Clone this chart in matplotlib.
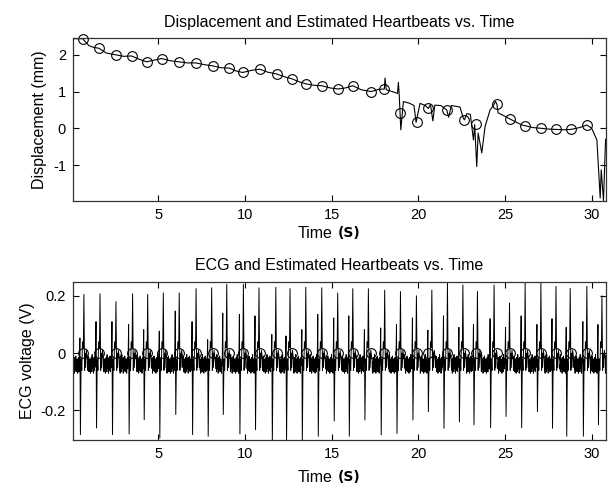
import matplotlib
matplotlib.use("Agg")
import numpy as np
import matplotlib.pyplot as plt

plt.rcParams['font.family'] = ['Liberation Sans', 'DejaVu Sans']
plt.rcParams['axes.unicode_minus'] = False

# ---------------- data ----------------
# displacement trace vertices (time s, displacement mm)
disp_t = [0.10, 0.64, 1.00, 1.30, 1.58, 2.00, 2.56, 3.00, 3.46, 3.90, 4.33, 4.80,
          5.19, 5.70, 6.19, 6.70, 7.17, 7.70, 8.14, 8.60, 9.09, 9.50, 9.87, 10.40,
          10.87, 11.30, 11.83, 12.30, 12.70, 13.10, 13.52, 14.00, 14.43, 14.90,
          15.39, 15.80, 16.22, 16.70, 17.28, 17.70, 18.04, 18.08, 18.15, 18.50,
          18.80, 18.85, 18.90, 18.99, 19.14, 19.50, 19.75, 19.87, 20.10, 20.40,
          20.58, 20.70, 20.84, 20.95, 21.30, 21.64, 21.75, 21.90, 22.40, 22.60,
          22.66, 22.80, 23.00, 23.18, 23.25, 23.37, 23.45, 23.66, 23.85, 24.14,
          24.33, 24.45, 24.53, 24.60, 24.90, 25.30, 25.97, 26.16, 26.60, 27.09,
          27.50, 27.95, 28.40, 28.80, 29.30, 29.72, 30.00, 30.30, 30.49, 30.55,
          30.68, 30.80]
disp_v = [2.44, 2.44, 2.25, 2.20, 2.18, 2.05, 2.00, 1.96, 1.97, 1.88, 1.81, 1.86,
          1.90, 1.84, 1.81, 1.78, 1.78, 1.73, 1.70, 1.65, 1.64, 1.56, 1.52, 1.58,
          1.61, 1.53, 1.48, 1.40, 1.35, 1.27, 1.21, 1.17, 1.16, 1.10,
          1.07, 1.10, 1.16, 1.05, 1.00, 1.06, 1.07, 1.37, 1.05, 1.00,
          0.95, 1.25, 0.90, -0.04, 0.73, 0.68, 0.62, 0.16, 0.68, 0.62,
          0.54, 0.65, 0.20, 0.63, 0.62, 0.50, 0.30, 0.62, 0.58, 0.27,
          0.23, 0.40, 0.38, -0.32, 0.10, -1.04, -0.13, -0.67, 0.05, 0.50,
          0.62, 0.73, 0.66, 0.42, 0.35, 0.25, 0.09, 0.07, 0.02, 0.00,
          -0.02, -0.03, -0.04, -0.03, 0.02, 0.09, 0.00, -0.32, -1.90, -1.13,
          -1.97, -0.30]

# estimated heartbeats (circles)
beat_t = [0.64, 1.58, 2.56, 3.46, 4.33, 5.19, 6.19, 7.17, 8.14, 9.09, 9.87,
          10.87, 11.83, 12.70, 13.52, 14.43, 15.39, 16.22, 17.28, 18.04, 18.95,
          19.91, 20.58, 21.64, 22.66, 23.32, 24.53, 25.30, 26.16, 27.09, 27.95,
          28.80, 29.72]
beat_disp = [2.44, 2.18, 2.00, 1.97, 1.81, 1.90, 1.81, 1.78, 1.70, 1.64, 1.52,
             1.61, 1.48, 1.35, 1.21, 1.16, 1.07, 1.16, 1.00, 1.07, 0.41,
             0.16, 0.54, 0.50, 0.23, 0.12, 0.66, 0.25, 0.07, 0.00, -0.03,
             -0.03, 0.09]
beat_ecg = [0.0] * len(beat_t)

# ECG beats: R-peak time, R height, deep trough, small pre-peak
ecg_peak_t = [0.71, 1.64, 2.56, 3.52, 4.39, 5.29, 6.21, 7.18, 8.08, 8.95, 9.91,
              10.81, 11.78, 12.60, 13.51, 14.43, 15.35, 16.22, 17.12, 18.06,
              18.97, 19.89, 20.78, 21.68, 22.57, 23.41, 24.37, 25.26, 26.16,
              27.07, 27.94, 28.76, 29.72, 30.59]
ecg_peak_v = [0.205, 0.207, 0.180, 0.207, 0.205, 0.210, 0.210, 0.225, 0.228,
              0.240, 0.240, 0.228, 0.230, 0.225, 0.230, 0.228, 0.210, 0.225,
              0.225, 0.220, 0.215, 0.200, 0.220, 0.244, 0.238, 0.215, 0.238,
              0.175, 0.244, 0.244, 0.233, 0.226, 0.233, 0.200]
ecg_trough_v = [-0.284, -0.261, -0.284, -0.282, -0.232, -0.296, -0.214, -0.284,
                -0.290, -0.214, -0.282, -0.267, -0.310, -0.302, -0.310, -0.290,
                -0.237, -0.290, -0.233, -0.285, -0.280, -0.233, -0.204, -0.262,
                -0.240, -0.250, -0.260, -0.221, -0.260, -0.204, -0.262, -0.290,
                -0.290, -0.250]
ecg_pre_v = [0.053, 0.110, 0.110, 0.100, 0.082, 0.077, 0.147, 0.110, 0.047,
             0.140, 0.135, 0.130, 0.065, 0.060, 0.082, 0.135, 0.123, 0.130,
             0.082, 0.088, 0.100, 0.123, 0.080, 0.130, 0.090, 0.100, 0.120,
             0.090, 0.130, 0.100, 0.120, 0.090, 0.110, 0.100]
# baseline wiggle pattern between beats (V)
ecg_wiggle = [-0.02, -0.055, -0.03, -0.07, -0.04, -0.015, -0.06, -0.03, -0.05,
              -0.01, -0.045, -0.065, -0.025, -0.05, -0.02, -0.06, -0.035, -0.07,
              -0.03, -0.045, -0.015, -0.055, -0.04, -0.065, -0.005, -0.05, -0.03]

xticks = [5, 10, 15, 20, 25, 30]
top_yticks = [-1, 0, 1, 2]
bot_yticks = [-0.2, 0, 0.2]
bot_yticklabels = ['-0.2', '0', '0.2']

# ---------------- build ECG polyline from the read beat values ----------------
ecg_t, ecg_v = [0.10], [-0.03]
shape_dt = [-0.26, -0.23, -0.20, -0.16, -0.12, -0.08, -0.03, 0.0, 0.04, 0.07,
            0.10, 0.14, 0.20]
for i, p in enumerate(ecg_peak_t):
    start = ecg_t[-1]
    stop = p + shape_dt[0]
    if stop > start:
        n = max(2, int((stop - start) / 0.014))
        seg = np.linspace(start, stop, n + 2)[1:-1]
        for k, s in enumerate(seg):
            ecg_t.append(s)
            ecg_v.append(ecg_wiggle[(k + 5 * i) % len(ecg_wiggle)])
    vals = [-0.03, ecg_pre_v[i], ecg_trough_v[i], -0.02, -0.06, 0.04, 0.02,
            ecg_peak_v[i], -0.06, 0.0, -0.05, 0.01, -0.02]
    for dt, v in zip(shape_dt, vals):
        ecg_t.append(p + dt)
        ecg_v.append(v)
seg = np.linspace(ecg_t[-1], 30.80, 16)[1:]
for k, s in enumerate(seg):
    ecg_t.append(s)
    ecg_v.append(ecg_wiggle[k])

# ---------------- figure ----------------
fig = plt.figure(figsize=(6.08, 4.93), dpi=100)
ax1 = fig.add_axes([0.120, 0.593, 0.876, 0.330])
ax2 = fig.add_axes([0.120, 0.1075, 0.876, 0.3215])

ax1.plot(disp_t, disp_v, color='black', lw=0.8)
ax1.plot(beat_t, beat_disp, 'o', mfc='none', mec='black', ms=7, mew=0.8,
         clip_on=False)
ax1.set_xlim(0.08, 30.8)
ax1.set_ylim(-1.97, 2.46)
ax1.set_yticks(top_yticks)
ax1.set_ylabel('Displacement (mm)', fontsize=11.5, labelpad=4)
ax1.set_title('Displacement and Estimated Heartbeats vs. Time', fontsize=11.5,
              pad=8)

ax2.plot(ecg_t, ecg_v, color='black', lw=0.7)
ax2.plot(beat_t, beat_ecg, 'o', mfc='none', mec='black', ms=7, mew=0.8)
ax2.set_xlim(0.08, 30.8)
ax2.set_ylim(-0.303, 0.25)
ax2.set_yticks(bot_yticks)
ax2.set_yticklabels(bot_yticklabels)
ax2.set_ylabel('ECG voltage (V)', fontsize=11.5, labelpad=4)
ax2.set_title('ECG and Estimated Heartbeats vs. Time', fontsize=11.5, pad=8)

for ax, ylab in ((ax1, -0.2), (ax2, -0.235)):
    ax.set_xticks(xticks)
    ax.tick_params(direction='in', top=True, right=True, length=4, width=0.8,
                   labelsize=10.5, pad=5)
    for s in ax.spines.values():
        s.set_linewidth(0.9)
        s.set_color('#333333')
    # x label: "Time" plus "(S)" in a different face
    ax.text(0.488, ylab, 'Time', transform=ax.transAxes, ha='right',
            va='center', fontsize=11.5)
    ax.text(0.497, ylab, '(S)', transform=ax.transAxes, ha='left',
            va='center', fontsize=10, family='DejaVu Sans', fontweight='bold')

fig.savefig('out.png', dpi=100)
